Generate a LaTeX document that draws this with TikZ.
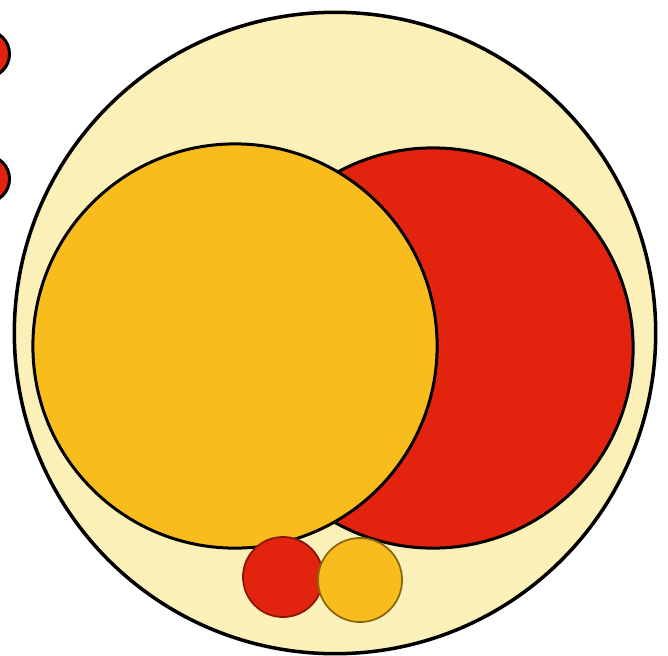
\documentclass[tikz,border=0pt]{standalone}
\usepackage{tikz}
\usetikzlibrary{positioning}
\usepackage{xcolor}
\definecolor{paleyellow}{HTML}{FBF0B8}
\definecolor{goldfill}{HTML}{F8BC1C}
\definecolor{redfill}{HTML}{E2240E}

\tikzset{
  disc/.style={circle,draw=black,line width=0.85pt,inner sep=0pt},
  smalldisc/.style={circle,line width=0.5pt,inner sep=0pt,minimum size=#1}
}

\begin{document}
\begin{tikzpicture}[x=0.01cm,y=-0.01cm]
    \useasboundingbox (0,0) rectangle (668,655);
    \clip (0,0) rectangle (668,655);
    % two discs cut by the left edge
    \node[disc,fill=redfill,minimum size=0.47cm] (edgetop) at (-14,54) {};
    \node[disc,fill=redfill,minimum size=0.47cm] (edgelow) at (-14,179) {};
    % outer pale disc
    \node[disc,fill=paleyellow,line width=1pt,minimum size=6.41cm] (outer) at (335,333) {};
    % the two large discs
    \node[disc,fill=redfill,minimum size=4.0cm] (bigred) at (433,348) {};
    \node[disc,fill=goldfill,minimum size=4.04cm] (biggold) at (235,346) {};
    % the two small discs
    \node[smalldisc=0.80cm,fill=redfill,draw=redfill!60!black] (smallred) at (283,577) {};
    \node[smalldisc=0.84cm,fill=goldfill,draw=goldfill!55!black] (smallgold) at (360,580) {};
  \end{tikzpicture}
\end{document}
